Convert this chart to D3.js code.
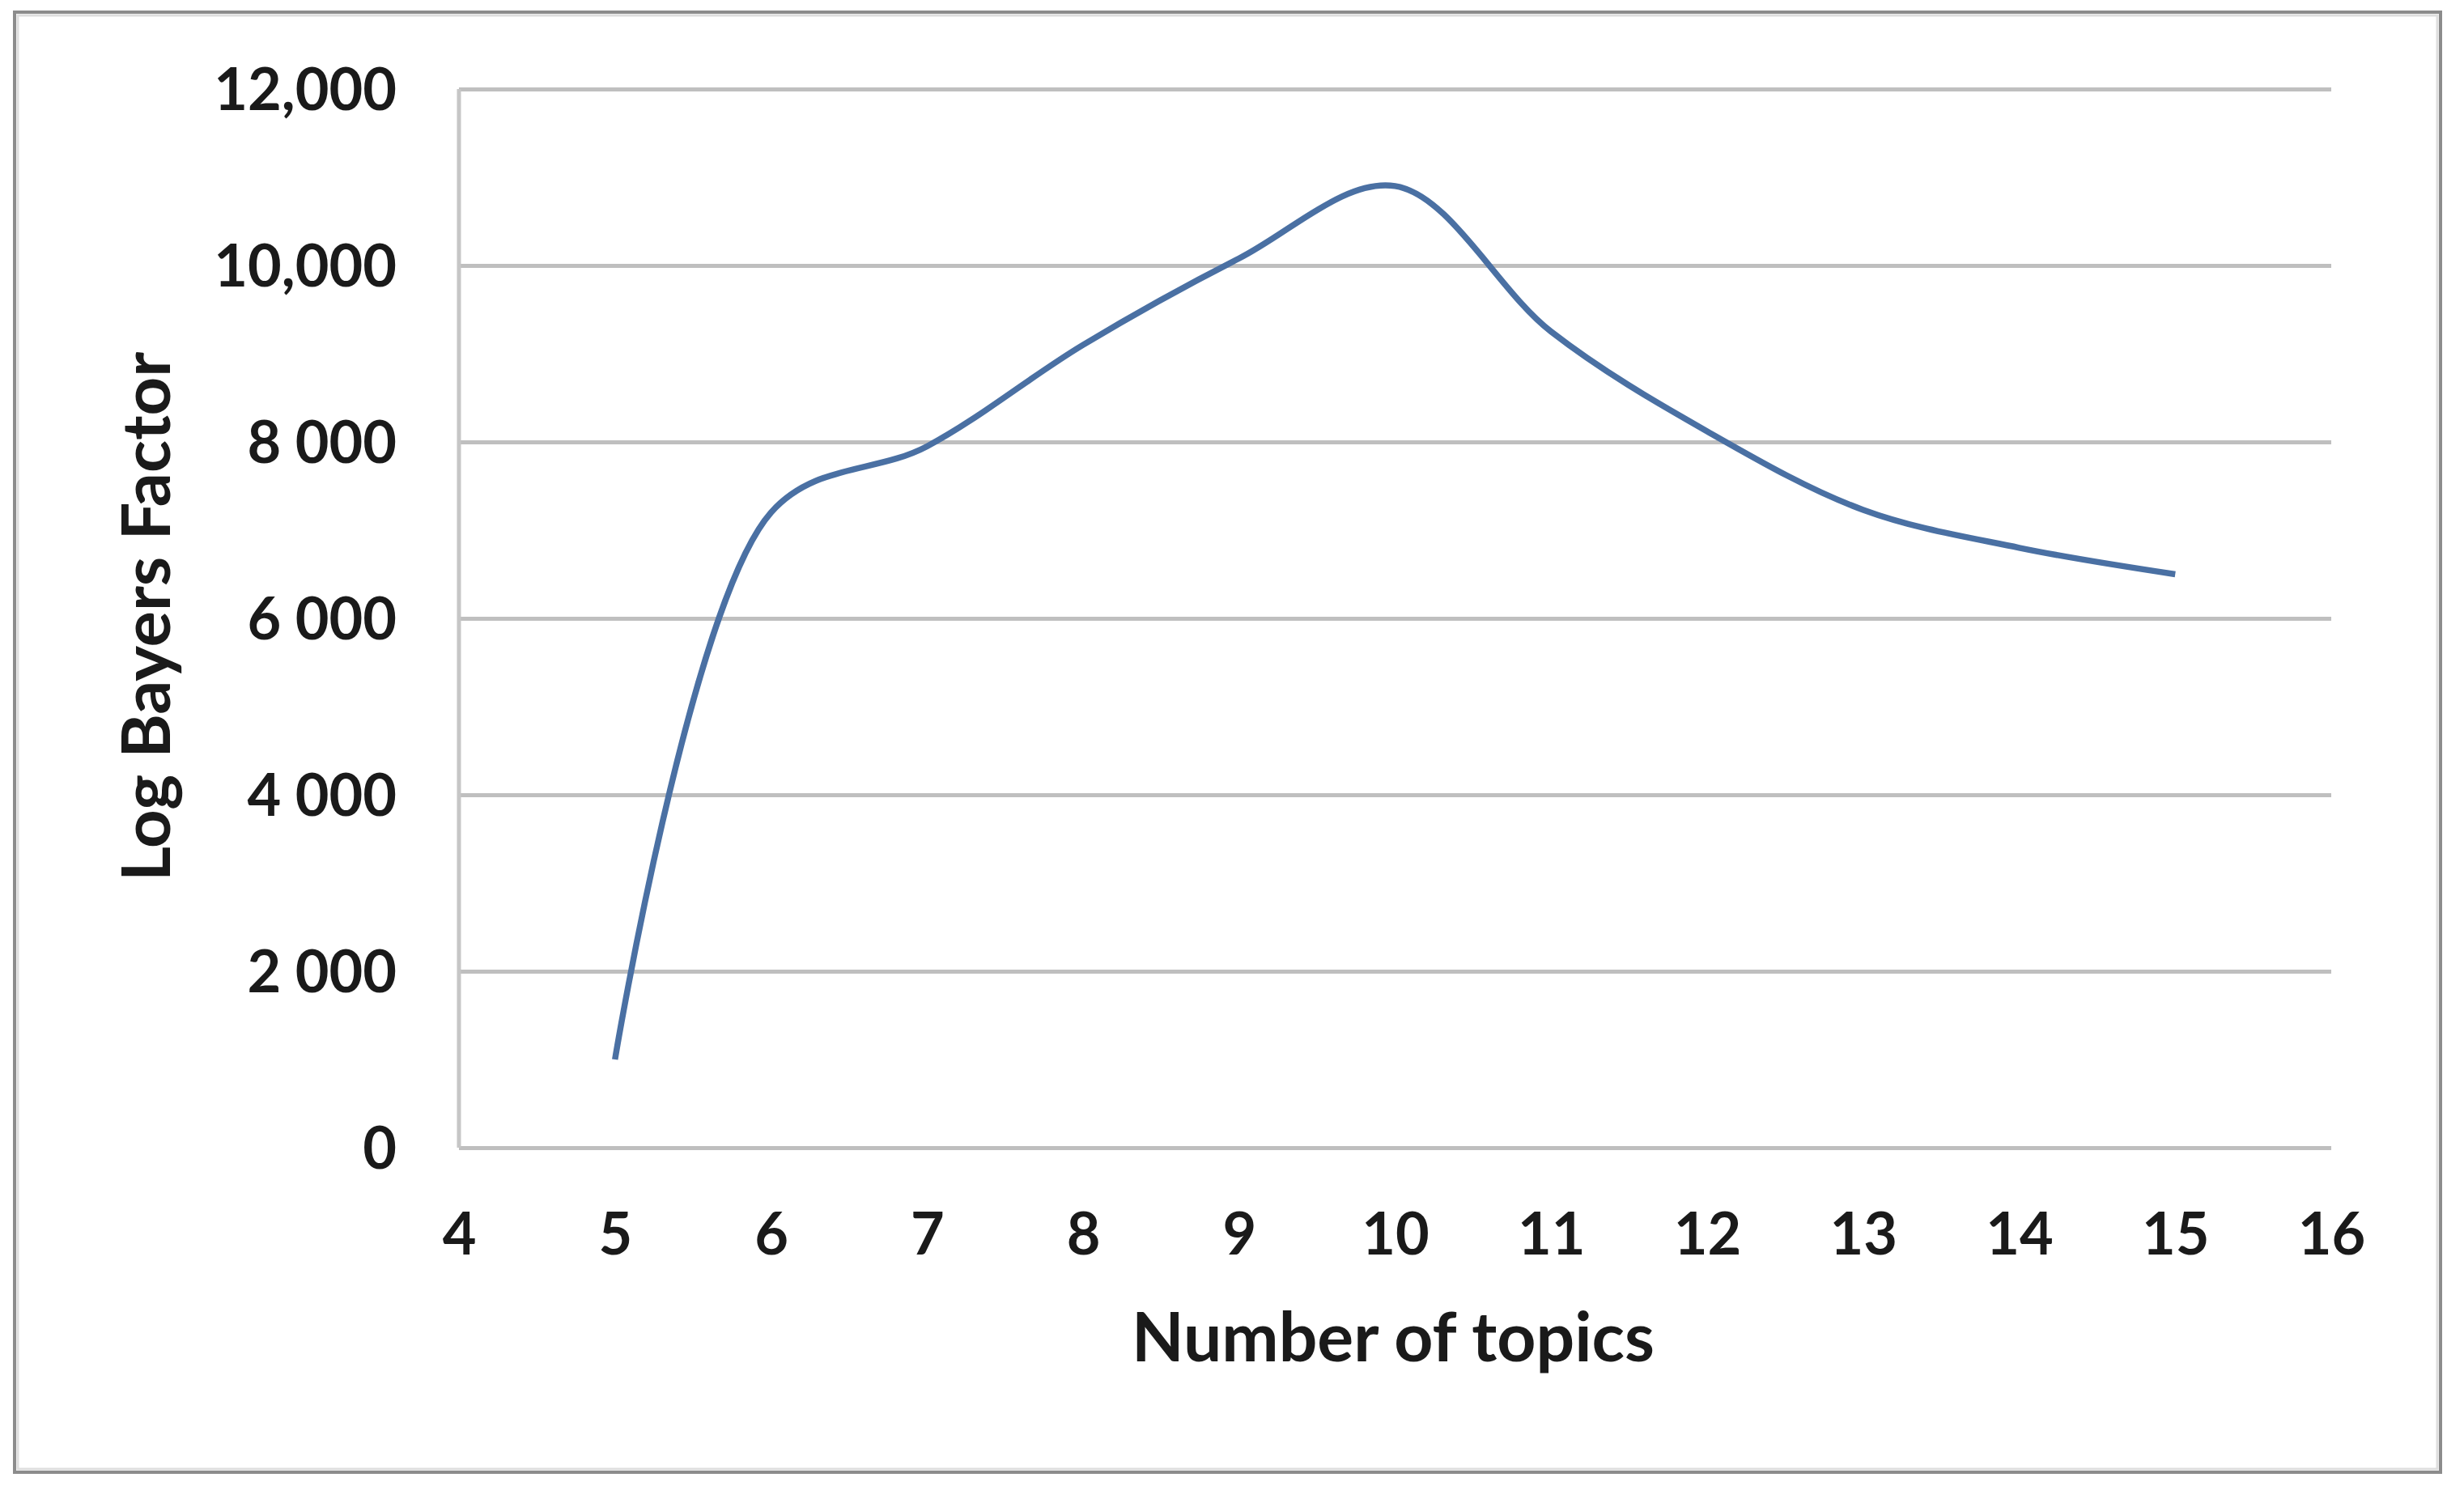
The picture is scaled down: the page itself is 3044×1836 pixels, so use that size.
<!DOCTYPE html>
<html>
<head>
<meta charset="utf-8">
<script src="https://cdn.jsdelivr.net/npm/d3@7"></script>
<style>
  body { margin: 0; background: #fff; }
  .tick text { font-family: Lato, "Open Sans", sans-serif; font-weight: 700; fill: #1a1a1a; }
  .title { font-family: Lato, "Open Sans", sans-serif; font-weight: 700; fill: #1a1a1a; }
</style>
</head>
<body>
<div id="chart"></div>
<script>
// Log Bayers Factor theo số topic
const topics = [5, 6, 7, 8, 9, 10, 11, 12, 13, 14, 15];
const logBF  = [1000, 7200, 7950, 9100, 10080, 10900, 9250, 8120, 7230, 6800, 6500];

const xTicks = [4, 5, 6, 7, 8, 9, 10, 11, 12, 13, 14, 15, 16];
const yTicks = [0, 2000, 4000, 6000, 8000, 10000, 12000];
const yTickLabels = ["0", "2 000", "4 000", "6 000", "8 000", "10,000", "12,000"];

const W = 3044, H = 1836;
const margin = { top: 110, right: 164, bottom: 418, left: 567 };
const innerW = W - margin.left - margin.right;
const innerH = H - margin.top - margin.bottom;

const svg = d3.select("#chart").append("svg")
  .attr("width", W)
  .attr("height", H);

// khung ngoài
svg.append("rect")
  .attr("x", 18).attr("y", 15)
  .attr("width", 2997).attr("height", 1804)
  .attr("fill", "none")
  .attr("stroke", "#8c8c8c")
  .attr("stroke-width", 4);
svg.append("rect")
  .attr("x", 22).attr("y", 19)
  .attr("width", 2989).attr("height", 1796)
  .attr("fill", "none")
  .attr("stroke", "#dedede")
  .attr("stroke-width", 3);

const g = svg.append("g").attr("transform", `translate(${margin.left},${margin.top})`);

const x = d3.scaleLinear().domain([4, 16]).range([0, innerW]);
const y = d3.scaleLinear().domain([0, 12000]).range([innerH, 0]);

// gridlines
g.append("g")
  .call(d3.axisLeft(y).tickValues(yTicks).tickSize(-innerW).tickFormat(""))
  .call(s => s.select(".domain").remove())
  .call(s => s.selectAll("line").attr("stroke", "#bfbfbf").attr("stroke-width", 5));

// trục trái
g.append("line")
  .attr("x1", 0).attr("x2", 0)
  .attr("y1", y(12000)).attr("y2", y(0))
  .attr("stroke", "#c6c6c6").attr("stroke-width", 5);

// nhãn Y
g.append("g")
  .call(d3.axisLeft(y).tickValues(yTicks).tickSize(0).tickPadding(77)
    .tickFormat((d, i) => yTickLabels[i]))
  .call(s => s.select(".domain").remove())
  .call(s => s.selectAll("text").style("font-size", "72px").attr("dy", "0.36em"));

// nhãn X
g.append("g")
  .attr("transform", `translate(0,${innerH})`)
  .call(d3.axisBottom(x).tickValues(xTicks).tickSize(0).tickPadding(106)
    .tickFormat(d3.format("d")))
  .call(s => s.select(".domain").remove())
  .call(s => s.selectAll("text").style("font-size", "72px").attr("dy", "0.36em"));

// đường cong
const line = d3.line()
  .x((d, i) => x(topics[i]))
  .y(d => y(d))
  .curve(d3.curveCatmullRom.alpha(0.5));

g.append("path")
  .datum(logBF)
  .attr("fill", "none")
  .attr("stroke", "#4a70a3")
  .attr("stroke-width", 7.5)
  .attr("stroke-linejoin", "round")
  .attr("d", line);

// tiêu đề trục
svg.append("text")
  .attr("class", "title")
  .attr("x", 1721)
  .attr("y", 1682)
  .attr("text-anchor", "middle")
  .style("font-size", "84px")
  .text("Number of topics");

svg.append("text")
  .attr("class", "title")
  .attr("transform", "translate(210,762) rotate(-90)")
  .attr("text-anchor", "middle")
  .style("font-size", "83px")
  .text("Log Bayers Factor");
</script>
</body>
</html>
